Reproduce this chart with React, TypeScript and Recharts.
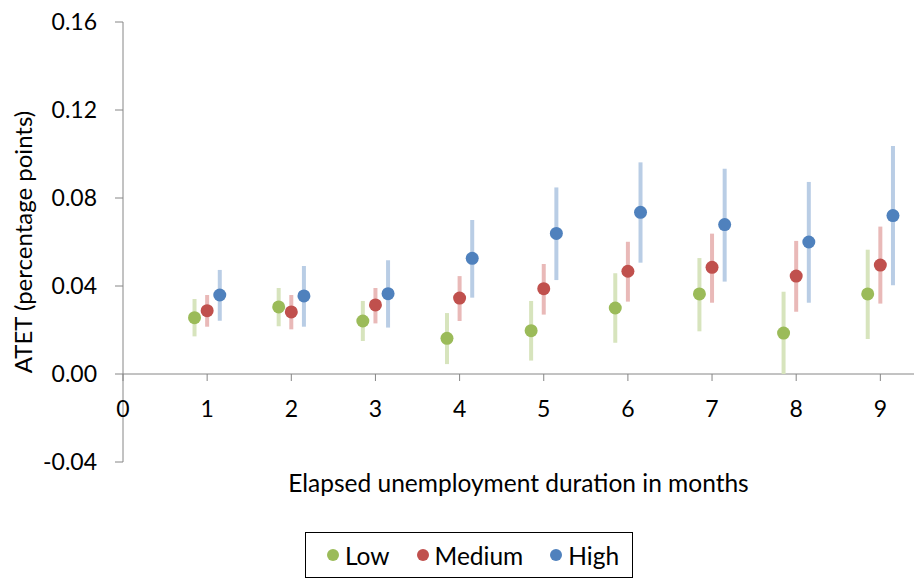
import { ScatterChart, Scatter, XAxis, YAxis, ErrorBar, ReferenceLine, Legend } from 'recharts';

// elapsed months (x categories)
const months = [1, 2, 3, 4, 5, 6, 7, 8, 9];

// point estimates and confidence bounds
const lowEst = [0.0256, 0.0305, 0.0241, 0.0162, 0.0197, 0.03, 0.0364, 0.0186, 0.0364];
const lowLo = [0.0171, 0.0217, 0.015, 0.0045, 0.0061, 0.0142, 0.0194, 0.0, 0.0159];
const lowHi = [0.0341, 0.0391, 0.0332, 0.0277, 0.0332, 0.0458, 0.0527, 0.0374, 0.0565];

const medEst = [0.0288, 0.0282, 0.0314, 0.0345, 0.0388, 0.0467, 0.0485, 0.0445, 0.0495];
const medLo = [0.0215, 0.0203, 0.023, 0.0241, 0.027, 0.0329, 0.0324, 0.0283, 0.032];
const medHi = [0.0359, 0.0359, 0.0391, 0.0445, 0.05, 0.0601, 0.0638, 0.0605, 0.067];

const highEst = [0.0359, 0.0355, 0.0365, 0.0526, 0.0639, 0.0735, 0.0679, 0.06, 0.072];
const highLo = [0.0242, 0.0215, 0.0211, 0.0347, 0.0427, 0.0506, 0.042, 0.0324, 0.0403];
const highHi = [0.0473, 0.0491, 0.0517, 0.07, 0.0848, 0.0962, 0.0933, 0.0873, 0.1036];

const seriesNames = ['Low', 'Medium', 'High'];
const xTicks = [0, 1, 2, 3, 4, 5, 6, 7, 8, 9];
const yTicks = [-0.04, 0, 0.04, 0.08, 0.12, 0.16];

const W = 914;
const H = 578;
const TOP = 22;
const LEFT = 123;
const XAXIS_H = 46;
const BOTTOM = 116 - XAXIS_H;
const PLOT_H = H - TOP - 116;
const Y_MIN = -0.04;
const Y_MAX = 0.16;
const X_MAX = 9.4;
const DODGE = 0.15;
const ZERO_SHIFT = (PLOT_H * (0 - Y_MIN)) / (Y_MAX - Y_MIN);

const AXIS = '#868686';
const FONT = 'Lato, "Open Sans", sans-serif';

const dotColors = ['#9bbb59', '#c0504d', '#4f81bd'];
const barColors = ['#d7e4bd', '#e9b9b8', '#b9cde5'];

const build = (est: number[], lo: number[], hi: number[], shift: number) =>
  months.map((m, i) => ({
    x: m + shift,
    y: est[i],
    err: [est[i] - lo[i], hi[i] - est[i]],
  }));

const series = [
  build(lowEst, lowLo, lowHi, -DODGE),
  build(medEst, medLo, medHi, 0),
  build(highEst, highLo, highHi, DODGE),
];

const XTick = (props: any) => {
  const { x, y, payload } = props;
  const y0 = y - ZERO_SHIFT;
  return (
    <g>
      <line x1={x} x2={x} y1={y0} y2={y0 + 7} stroke={AXIS} />
      <text x={x} y={y0 + 43} textAnchor="middle" fontSize={23} fill="#000" fontFamily={FONT}>
        {payload.value}
      </text>
    </g>
  );
};

const dot = (color: string) => (p: any) => <circle cx={p.cx} cy={p.cy} r={6.5} fill={color} />;

const LegendBox = () => (
  <div
    style={{
      border: '1px solid #000',
      height: 46,
      boxSizing: 'border-box',
      display: 'flex',
      alignItems: 'center',
      justifyContent: 'center',
      paddingLeft: 8,
      fontFamily: FONT,
      fontSize: 24.5,
      color: '#000',
    }}
  >
    {seriesNames.map((name, i) => (
      <span key={name} style={{ display: 'flex', alignItems: 'center', marginLeft: i ? 27 : 0 }}>
        <span
          style={{
            display: 'inline-block',
            width: 12,
            height: 12,
            borderRadius: 6,
            background: dotColors[i],
            marginRight: 6,
          }}
        />
        {name}
      </span>
    ))}
  </div>
);

export default function App() {
  return (
    <div style={{ position: 'absolute', left: 0, top: 0, background: '#fff' }}>
      <ScatterChart width={W} height={H} margin={{ top: TOP, right: 0, left: 0, bottom: BOTTOM }}>
        <XAxis
          type="number"
          dataKey="x"
          domain={[0, X_MAX]}
          ticks={xTicks}
          allowDataOverflow
          axisLine={false}
          tickLine={false}
          tickSize={0}
          tickMargin={0}
          height={XAXIS_H}
          tick={<XTick />}
          label={{
            content: (p: any) => {
              const vb = p.viewBox;
              return (
                <text
                  x={vb.x + vb.width / 2}
                  y={vb.y + 20}
                  textAnchor="middle"
                  dominantBaseline="central"
                  fontSize={24.5}
                  fontFamily={FONT}
                  fill="#000"
                >
                  Elapsed unemployment duration in months
                </text>
              );
            },
          }}
        />
        <YAxis
          type="number"
          dataKey="y"
          domain={[Y_MIN, Y_MAX]}
          ticks={yTicks}
          allowDataOverflow
          width={LEFT}
          stroke={AXIS}
          tickSize={8}
          tickMargin={18}
          tick={{ fill: '#000', fontSize: 23, fontFamily: FONT }}
          tickFormatter={(v: number) => v.toFixed(2)}
          label={{
            content: (p: any) => {
              const vb = p.viewBox;
              const cx = vb.x + 22;
              const cy = vb.y + vb.height / 2;
              return (
                <text
                  x={cx}
                  y={cy}
                  transform={`rotate(-90, ${cx}, ${cy})`}
                  textAnchor="middle"
                  dominantBaseline="central"
                  fontSize={24}
                  fontFamily={FONT}
                  fill="#000"
                >
                  ATET (percentage points)
                </text>
              );
            },
          }}
        />
        <ReferenceLine y={0} stroke={AXIS} strokeWidth={1} />
        {series.map((data, i) => (
          <Scatter
            key={seriesNames[i]}
            name={seriesNames[i]}
            data={data}
            fill={dotColors[i]}
            shape={dot(dotColors[i])}
            isAnimationActive={false}
          >
            <ErrorBar dataKey="err" direction="y" width={0} strokeWidth={4} stroke={barColors[i]} />
          </Scatter>
        ))}
        <Legend
          layout="vertical"
          align="center"
          verticalAlign="middle"
          content={<LegendBox />}
          wrapperStyle={{ left: 305, top: 532, width: 328, height: 46 }}
        />
      </ScatterChart>
    </div>
  );
}
